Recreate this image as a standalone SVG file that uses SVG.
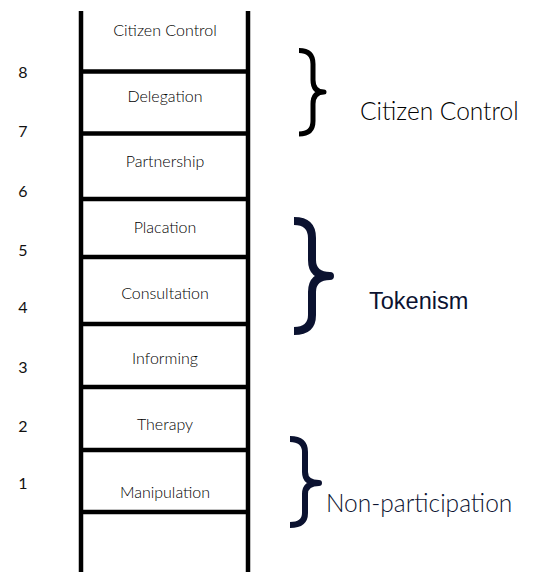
<svg xmlns="http://www.w3.org/2000/svg" width="534" height="572" viewBox="0 0 534 572">
<style>
.rail{stroke:#000;stroke-width:4.5;fill:none}
.rung{stroke:#000;stroke-width:4.5;fill:none}
.lbl{font-family:Lato,"Noto Sans",sans-serif;font-size:16px;font-weight:300;fill:#000;text-anchor:middle}
.num{font-family:Lato,"Noto Sans",sans-serif;font-size:16px;font-weight:400;fill:#111;text-anchor:middle}
.brace{fill:none;stroke-linecap:butt;stroke-linejoin:round}
.grp{font-family:Lato,"Noto Sans",sans-serif;font-size:24.5px;font-weight:300}
</style>
<rect width="534" height="572" fill="#fff"/>
<g id="ladder">
<line class="rail" x1="81" y1="11" x2="81" y2="572"/>
<line class="rail" x1="248" y1="11" x2="248" y2="572"/>
<line class="rung" x1="81" y1="71.5" x2="248" y2="71.5"/>
<line class="rung" x1="81" y1="133.5" x2="248" y2="133.5"/>
<line class="rung" x1="81" y1="199" x2="248" y2="199"/>
<line class="rung" x1="81" y1="257" x2="248" y2="257"/>
<line class="rung" x1="81" y1="324" x2="248" y2="324"/>
<line class="rung" x1="81" y1="387" x2="248" y2="387"/>
<line class="rung" x1="81" y1="450" x2="248" y2="450"/>
<line class="rung" x1="81" y1="512" x2="248" y2="512"/>
</g>
<g id="rung-labels">
<text class="lbl" x="165" y="36">Citizen Control</text>
<text class="lbl" x="165" y="102">Delegation</text>
<text class="lbl" x="165" y="167">Partnership</text>
<text class="lbl" x="165" y="233">Placation</text>
<text class="lbl" x="165" y="299">Consultation</text>
<text class="lbl" x="165" y="364">Informing</text>
<text class="lbl" x="165" y="430">Therapy</text>
<text class="lbl" x="165" y="498">Manipulation</text>
</g>
<g id="numbers">
<text class="num" x="23" y="78">8</text>
<text class="num" x="23" y="137">7</text>
<text class="num" x="23" y="197">6</text>
<text class="num" x="23" y="256">5</text>
<text class="num" x="23" y="313">4</text>
<text class="num" x="23" y="373">3</text>
<text class="num" x="23" y="432">2</text>
<text class="num" x="23" y="489">1</text>
</g>
<g id="group-citizen-control">
<path class="brace" stroke="#000" stroke-width="5" d="M299 50.5 Q313 50.5 313 64 L313 80 Q313 92 324 92 Q313 92 313 104 L313 121 Q313 134 299 134"/>
<text class="grp" x="360" y="120" fill="#000">Citizen Control</text>
</g>
<g id="group-tokenism">
<path class="brace" stroke="#0b1230" stroke-width="8" d="M294 221 Q312 221 312 238 L312 260 Q312 276 330 276 Q312 276 312 292 L312 315 Q312 331 294 331"/>
<text x="369" y="309" fill="#0b1230" style="font-family:'Liberation Sans',Arial,sans-serif;font-size:23.5px">Tokenism</text>
</g>
<g id="group-non-participation">
<path class="brace" stroke="#0b1230" stroke-width="6" d="M290 439 Q305 439 305 452 L305 472 Q305 483 319 483 Q305 483 305 494 L305 513 Q305 525 290 525"/>
<text class="grp" x="326" y="512" fill="#0b1230">Non-participation</text>
</g>
</svg>
